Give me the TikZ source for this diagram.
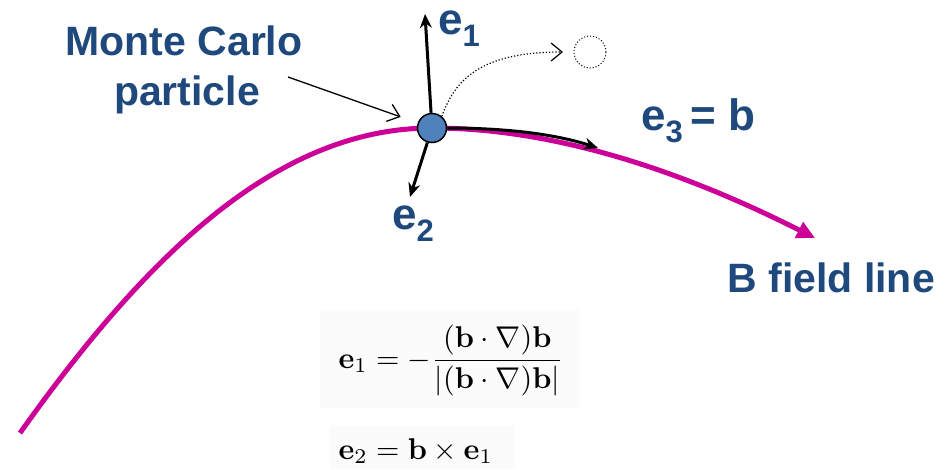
\documentclass[tikz,border=0pt]{standalone}
\usepackage[no-math]{fontspec}
\newfontfamily\labfont{Liberation Sans}
\usetikzlibrary{arrows.meta}
\definecolor{txtblue}{RGB}{31,73,125}
\definecolor{ballblue}{RGB}{79,129,189}
\definecolor{fieldmag}{RGB}{204,0,153}
\definecolor{eqback}{RGB}{251,251,251}
\newcommand{\vlab}[2]{{\labfont\bfseries #1\raisebox{-0.28em}{\fontsize{31}{31}\selectfont #2}}}
\tikzset{
  lab/.style={text=txtblue, font=\labfont\bfseries\fontsize{41}{50}\selectfont, inner sep=0pt, anchor=base},
  vec/.style={line width=3pt, -{Stealth[length=14pt,width=12pt]}},
  field/.style={line width=5pt, draw=fieldmag, -{Triangle[length=18pt,width=17pt]}},
  ptr/.style={line width=1.3pt, -{Straight Barb[length=11pt,width=18pt,line width=1.3pt]}},
  eq/.style={inner sep=0pt, anchor=base west, scale=3.0}
}
\begin{document}
\begin{tikzpicture}[x=1pt,y=-1pt]
\useasboundingbox (0,0) rectangle (945,469);
% faint backgrounds of the equations
\fill[eqback] (320,310) rectangle (580,408);
\fill[eqback] (330,425) rectangle (515,469);
% field line
\draw[field] (20,433) .. controls (150,250) and (280,128) .. (432,128)
   .. controls (560,128) and (690,175) .. (815,238);
% particle
\node[circle, draw=black, line width=1.5pt, fill=ballblue, minimum size=29pt, inner sep=0pt] (p) at (432,128) {};
\coordinate (e1tip) at (425,14);
\coordinate (e2tip) at (410,197);
\coordinate (e3tip) at (598,148);
\draw[vec] (p) -- (e1tip);
\draw[vec] (p) -- (e2tip);
\draw[vec] (p.east) .. controls (505,128) and (555,134) .. (e3tip);
% dotted future position
\node[circle, draw=black, dotted, line width=1pt, minimum size=32pt, inner sep=0pt] (q) at (590,52) {};
\draw[dotted, line width=1.2pt, -{Straight Barb[length=11pt,width=18pt,line width=1.2pt]}]
   (p.50) .. controls (455,80) and (480,52) .. (563,52);
% labels
\node[lab] (mc1) at (184,55) {Monte Carlo};
\node[lab] (mc2) at (187,105) {particle};
\coordinate (ptrstart) at (288,77);
\draw[ptr, shorten >=18pt] (ptrstart) -- (p);
\node[lab, anchor=base west, font=\fontsize{44}{50}\selectfont] (l1) at (438,34) {\vlab{e}{1}};
\node[lab, anchor=base west, font=\fontsize{44}{50}\selectfont] (l2) at (392,229) {\vlab{e}{2}};
\node[lab, anchor=base west, font=\fontsize{44}{50}\selectfont] (l3) at (641,130) {\vlab{e}{3}\,{\labfont\bfseries = b}};
\node[lab, anchor=base east] (bf) at (935,292) {B field line};
% equations
\node[eq] (eq1) at (338,368) {$\mathbf{e}_1 = -{\displaystyle\frac{(\mathbf{b}\cdot\nabla)\mathbf{b}}{|(\mathbf{b}\cdot\nabla)\mathbf{b}|}}$};
\node[eq] (eq2) at (338,459) {$\mathbf{e}_2 = \mathbf{b}\times\mathbf{e}_1$};
\end{tikzpicture}
\end{document}
